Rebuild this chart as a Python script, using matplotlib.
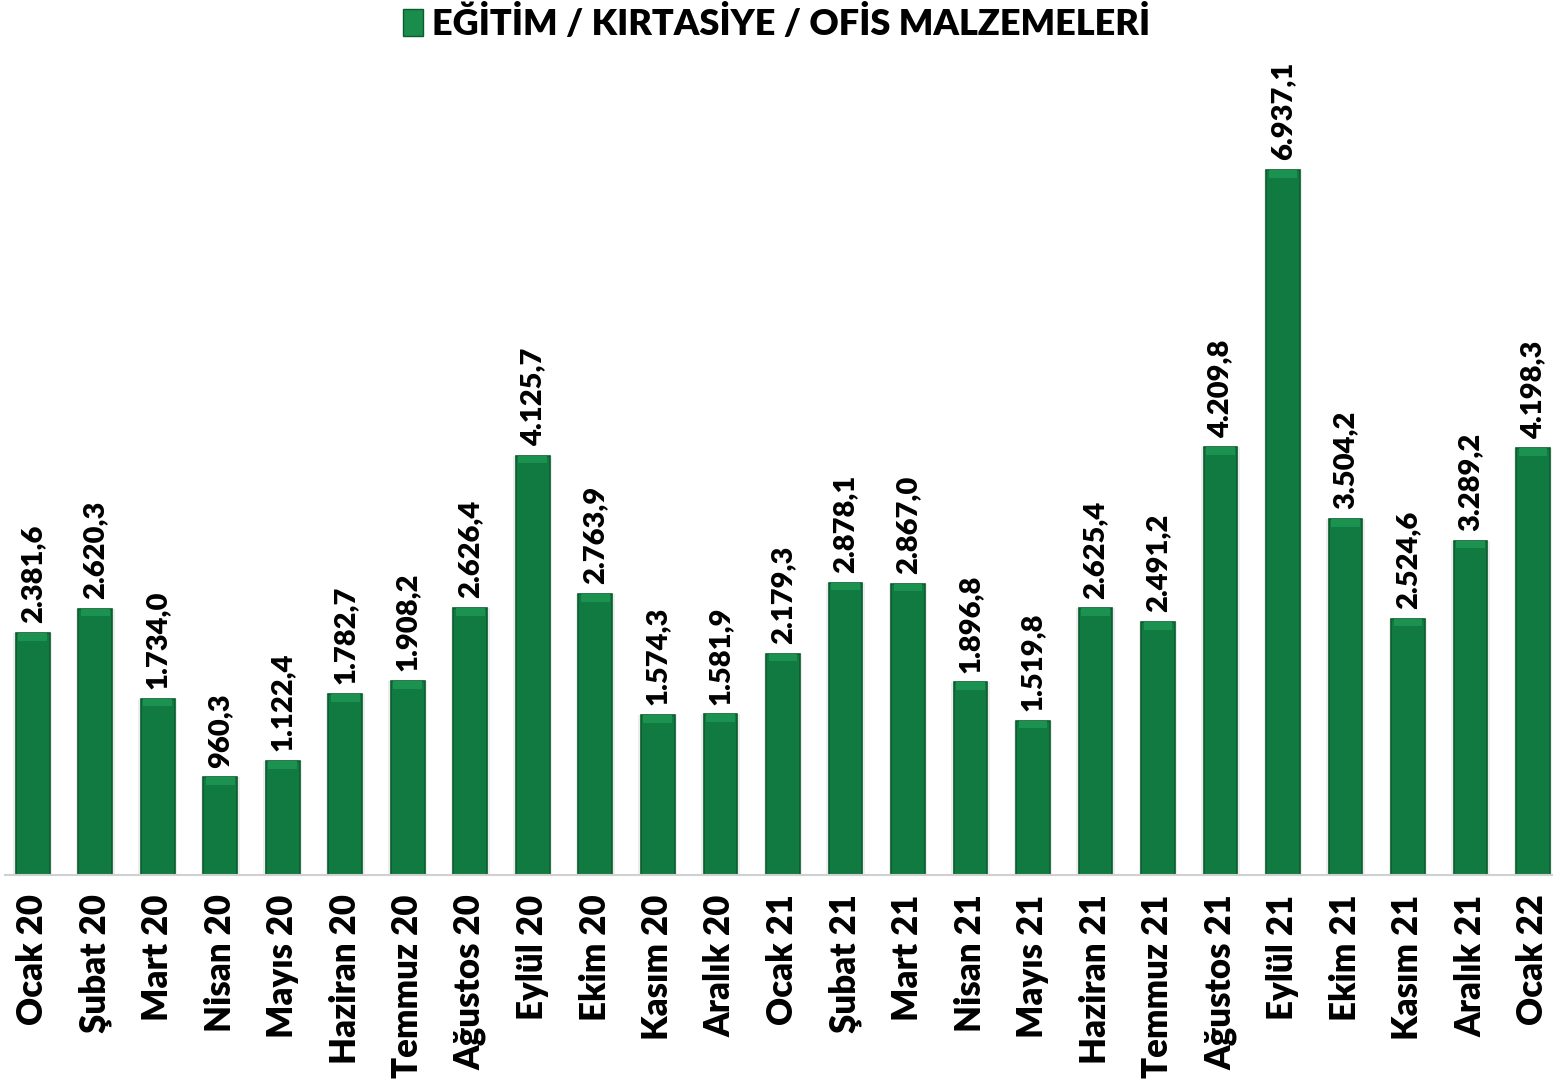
import matplotlib.pyplot as plt
from matplotlib.patches import Patch

# monthly values
months = ["Ocak 20", "Şubat 20", "Mart 20", "Nisan 20", "Mayıs 20", "Haziran 20",
          "Temmuz 20", "Ağustos 20", "Eylül 20", "Ekim 20", "Kasım 20", "Aralık 20",
          "Ocak 21", "Şubat 21", "Mart 21", "Nisan 21", "Mayıs 21", "Haziran 21",
          "Temmuz 21", "Ağustos 21", "Eylül 21", "Ekim 21", "Kasım 21", "Aralık 21",
          "Ocak 22"]
values = [2381.6, 2620.3, 1734.0, 960.3, 1122.4, 1782.7, 1908.2, 2626.4, 4125.7,
          2763.9, 1574.3, 1581.9, 2179.3, 2878.1, 2867.0, 1896.8, 1519.8, 2625.4,
          2491.2, 4209.8, 6937.1, 3504.2, 2524.6, 3289.2, 4198.3]
series_name = "EĞİTİM / KIRTASİYE / OFİS MALZEMELERİ"


def tr_fmt(v):
    s = "{:,.1f}".format(v)
    return s.replace(",", "X").replace(".", ",").replace("X", ".")


plt.rcParams['font.family'] = ['Lato', 'DejaVu Sans']
plt.rcParams['font.weight'] = 'heavy'

fig = plt.figure(figsize=(15.53, 10.92), dpi=100)
ax = fig.add_axes([0.003, 0.1987, 0.997, 0.8013])

x = list(range(len(values)))
W = 0.54
# soft shadow
ax.bar(x, values, width=W + 0.08, color='#000000', alpha=0.07, linewidth=0)
bars = ax.bar(x, values, width=W, color='#117A40', edgecolor='#0A5C2E', linewidth=1.2)
# lighter bevel cap on top of each bar
cap = [75] * len(values)
ax.bar(x, cap, bottom=[v - c for v, c in zip(values, cap)], width=W - 0.08,
       color='#1C9250', linewidth=0)

for b, v in zip(bars, values):
    ax.annotate(tr_fmt(v), (b.get_x() + b.get_width() / 2, v),
                xytext=(0, 7), textcoords='offset points',
                rotation=90, ha='center', va='bottom',
                fontsize=21, fontweight='heavy', color='black')

ax.set_xlim(-0.45, len(values) - 0.68)
ax.set_ylim(0, 8612)
ax.set_xticks(x)
ax.set_xticklabels(months, rotation=90, fontsize=25, fontweight='heavy')
ax.tick_params(axis='x', length=0, pad=14)
ax.set_yticks([])
for side in ['top', 'right', 'left']:
    ax.spines[side].set_visible(False)
ax.spines['bottom'].set_color('#D0D0D0')
ax.spines['bottom'].set_linewidth(1.5)

fig.legend(handles=[Patch(facecolor='#1A8C4C', edgecolor='#0A5C2E', label=series_name)],
           loc='upper center', bbox_to_anchor=(0.5, 1.025), frameon=False,
           prop={'size': 26, 'weight': 'heavy'}, handlelength=0.55, handleheight=0.75,
           handletextpad=0.25)

fig.savefig("out.png", dpi=100)
